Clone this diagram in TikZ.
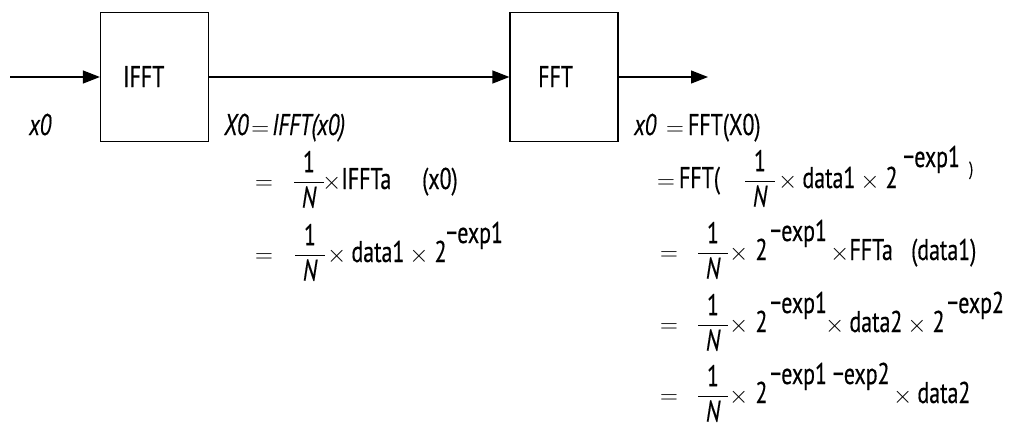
\documentclass[tikz,border=0pt]{standalone}
\usepackage{amsmath}
\usepackage{fontspec}
\setmainfont[FakeStretch=0.73,FakeBold=0.4]{PT Sans}
\usetikzlibrary{arrows.meta}
\newcommand\X{{\fontsize{23bp}{25bp}\selectfont$\times$}}
\newcommand\Eq{{\fontsize{23bp}{25bp}\selectfont$=$}}
\newcommand\fN{$\genfrac{}{}{1pt}{0}{\mbox{\hspace{9bp}1\hspace{9bp}}}{\mbox{\itshape N}}$}
\begin{document}
\begin{tikzpicture}[x=1bp,y=-1bp,
 box/.style={draw, line width=1.2bp, minimum width=108bp, minimum height=129bp, inner sep=0pt},
 lbl/.style={inner sep=0pt, anchor=base west, font=\fontsize{30bp}{32bp}\selectfont},
 lbli/.style={inner sep=0pt, anchor=base west, font=\fontsize{30bp}{32bp}\selectfont\itshape},
 frc/.style={inner sep=0pt, anchor=base, font=\fontsize{30bp}{32bp}\selectfont},
 flow/.style={line width=1.2bp, -{Triangle[length=17bp,width=13bp]}}]
\useasboundingbox (0,0) rectangle (1014,431);
\node[box] (ifft) at (154.5,77) {};
\node[box] (fft) at (564,77) {};
\coordinate (in) at (10,77);
\coordinate (out) at (708,77);
\draw[flow] (in) -- (ifft.west);
\draw[flow] (ifft.east) -- (fft.west);
\draw[flow] (fft.east) -- (out);
\node[lbl] (ifftt) at (123,87) {IFFT};
\node[lbl] (fftt) at (538,87) {FFT};
% top labels
\node[lbli] (x0in) at (29,135) {x0};
\node[lbli] (eqX) at (224,135) {X0\hspace{3bp}\Eq\hspace{3bp}IFFT(x0)};
\node[lbli] (x0out) at (634,135) {x0};
\node[lbl] (eqx) at (666,135) {\Eq\hspace{4bp}FFT(X0)};
% left rows
\node[lbl] (l2eq) at (255,189) {\Eq};
\node[frc] (l2f) at (309,189) {\fN};
\node[lbl] (l2a) at (322,189) {\X IFFTa};
\node[lbl] (l2b) at (422,189) {(x0)};
\node[lbl] (l3eq) at (255,262) {\Eq};
\node[frc] (l3f) at (310,262) {\fN};
\node[lbl] (l3a) at (327,262) {\X\,data1\,\X\hspace{6bp}2};
\node[lbl] (l3s) at (446,243) {−exp1};
% right rows
\node[lbl] (r2eq) at (657,188) {\Eq\hspace{4bp}FFT(};
\node[frc] (r2f) at (760,188) {\fN};
\node[lbl] (r2a) at (778,188) {\X\,data1\,\X\hspace{6bp}2};
\node[lbl] (r2s) at (903,167) {−exp1};
\node[lbl,font=\fontsize{19bp}{21bp}\selectfont] (r2p) at (969,175) {)};
\node[lbl] (r3eq) at (660,260) {\Eq};
\node[frc] (r3f) at (713,260) {\fN};
\node[lbl] (r3a) at (729,260) {\X\hspace{7bp}2};
\node[lbl] (r3s) at (770,241) {−exp1};
\node[lbl] (r3b) at (830,260) {\X FFTa};
\node[lbl] (r3c) at (911,260) {(data1)};
\node[lbl] (r4eq) at (660,332) {\Eq};
\node[frc] (r4f) at (713,332) {\fN};
\node[lbl] (r4a) at (729,332) {\X\hspace{7bp}2};
\node[lbl] (r4s) at (770,313) {−exp1};
\node[lbl] (r4b) at (825,332) {\X\,data2\,\X\hspace{6bp}2};
\node[lbl] (r4t) at (947,313) {−exp2};
\node[lbl] (r5eq) at (660,403) {\Eq};
\node[frc] (r5f) at (713,403) {\fN};
\node[lbl] (r5a) at (729,403) {\X\hspace{7bp}2};
\node[lbl] (r5s) at (770,384) {−exp1 −exp2};
\node[lbl] (r5b) at (893,403) {\X\,data2};
\end{tikzpicture}
\end{document}
